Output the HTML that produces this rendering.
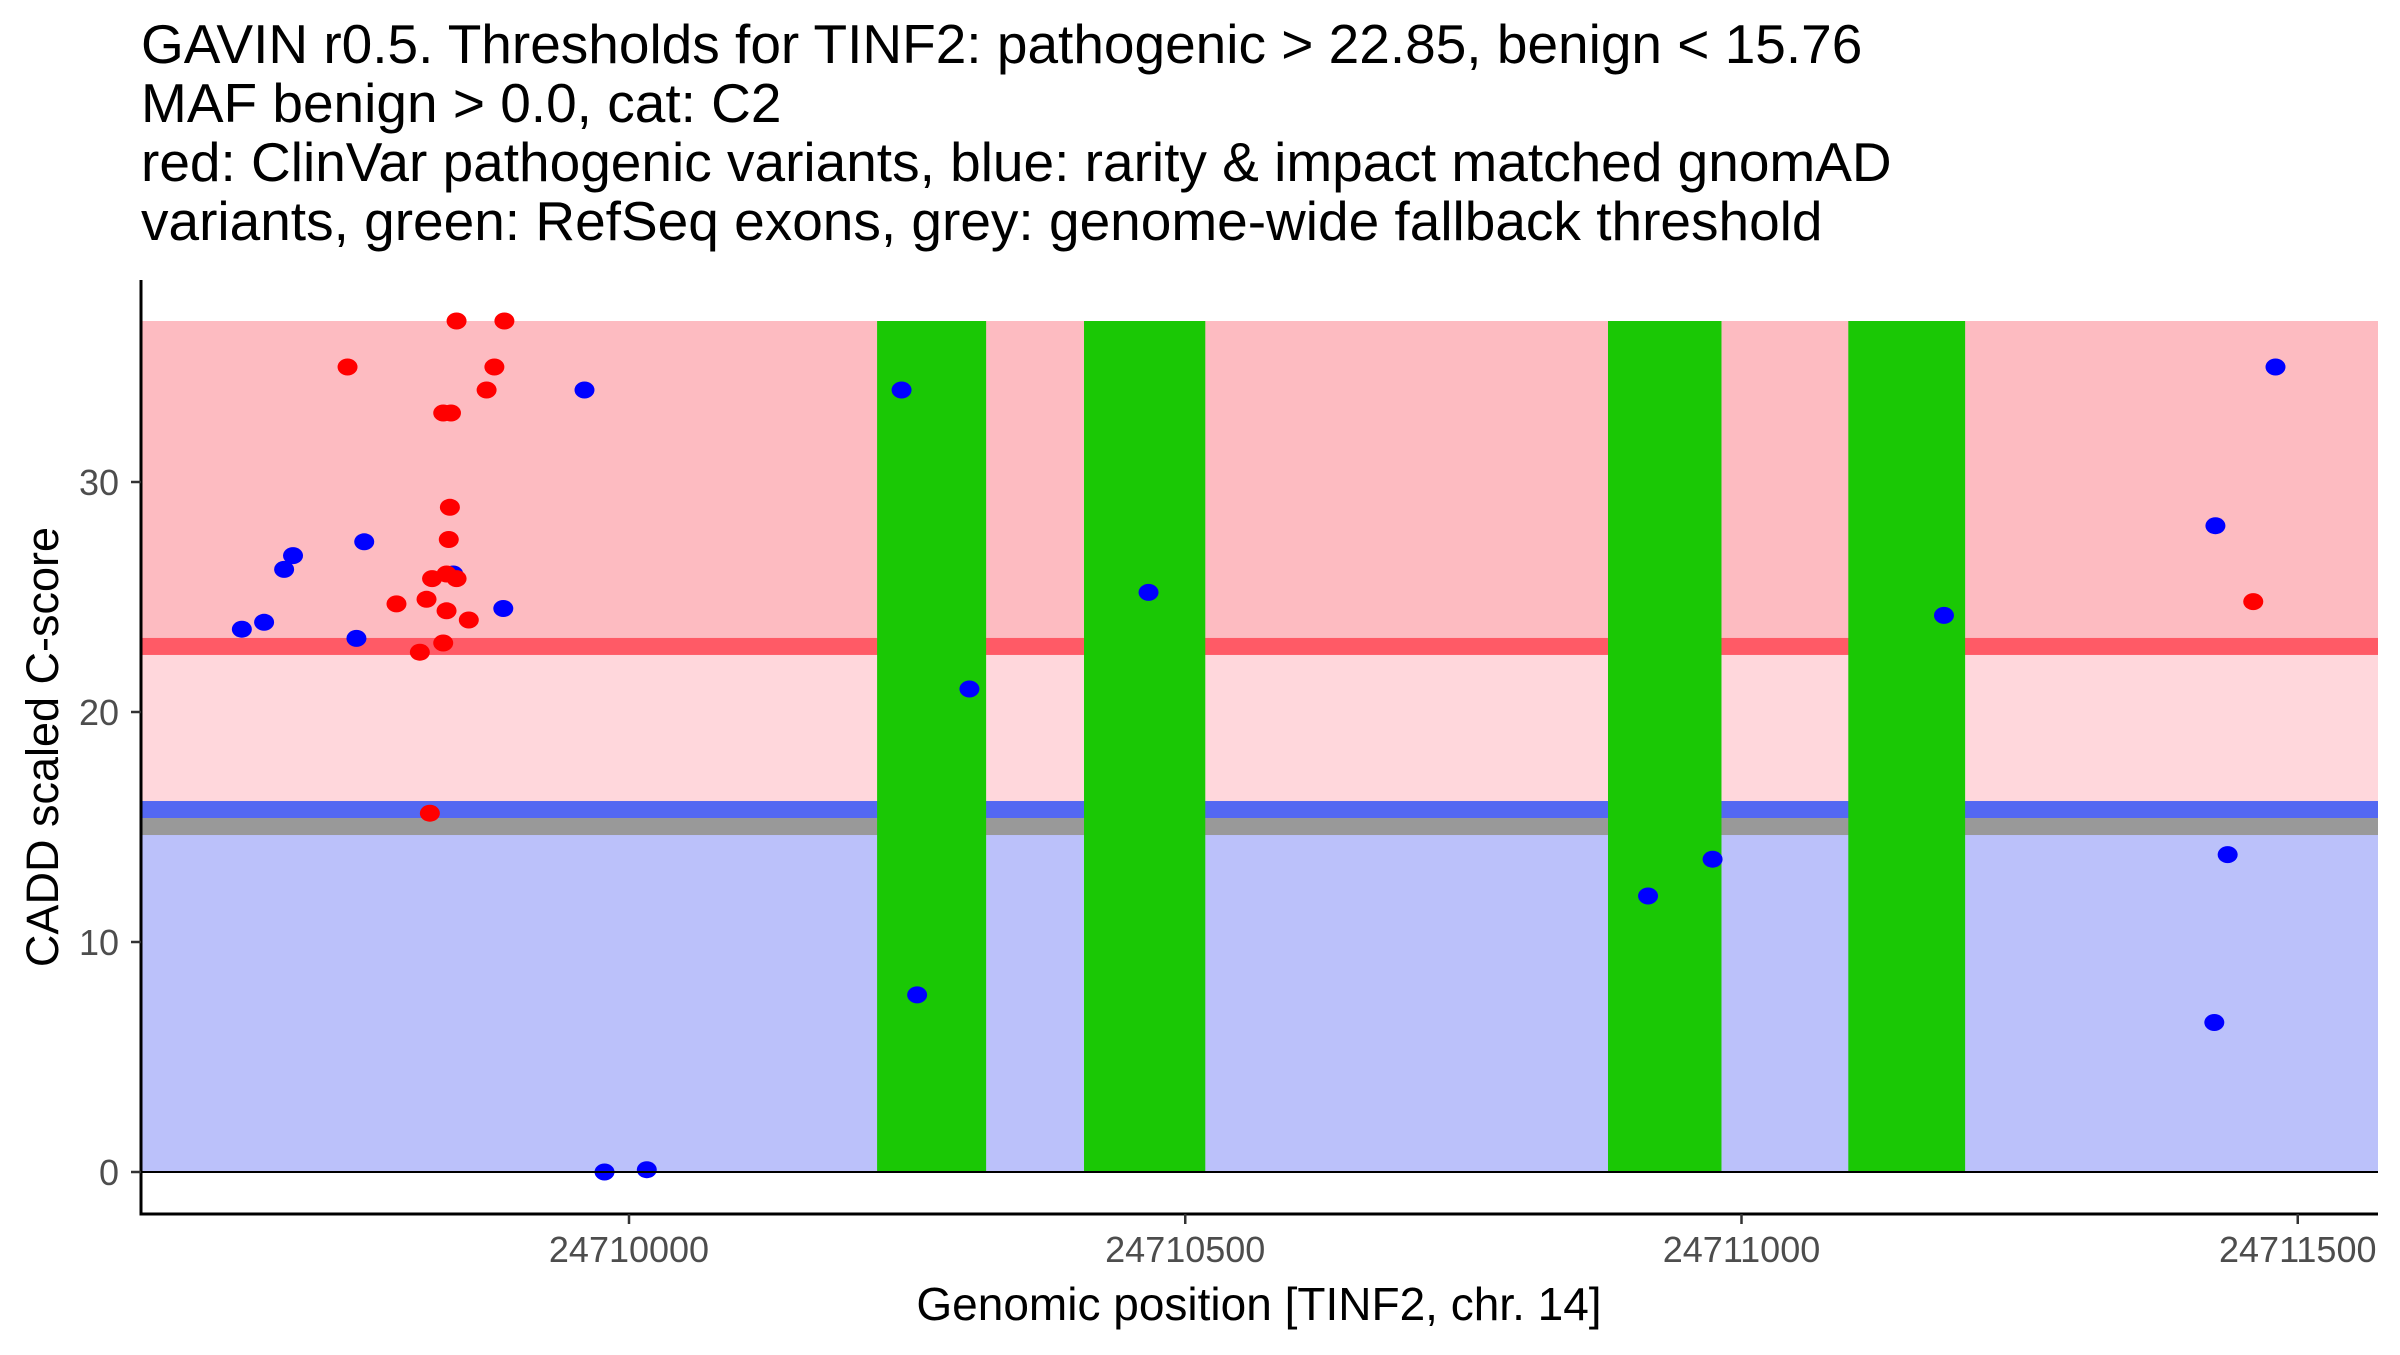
<!DOCTYPE html>
<html><head><meta charset="utf-8"><style>
body{margin:0;background:#fff}
svg text{font-family:"Liberation Sans",Arial,sans-serif}
</style></head><body>
<svg id="chart" width="2400" height="1350" viewBox="0 0 2400 1350" xmlns="http://www.w3.org/2000/svg">
<g font-size="55" fill="#000">
<text x="141" y="63">GAVIN r0.5. Thresholds for TINF2: pathogenic &gt; 22.85, benign &lt; 15.76</text>
<text x="141" y="122">MAF benign &gt; 0.0, cat: C2</text>
<text x="141" y="181">red: ClinVar pathogenic variants, blue: rarity &amp; impact matched gnomAD</text>
<text x="141" y="240">variants, green: RefSeq exons, grey: genome-wide fallback threshold</text>
</g>
<g id="bands"></g>
<g id="exons"></g>
<g id="points"></g>
<g id="axes"></g>
<text x="1259" y="1320" font-size="46" text-anchor="middle">Genomic position [TINF2, chr. 14]</text>
<text transform="translate(58,747) rotate(-90)" font-size="45" text-anchor="middle">CADD scaled C-score</text>
</svg>
<script>
const pathThr = 22.85, benThr = 15.76, fallbackThr = 15.0, maxScore = 37;
const xTicks = [24710000, 24710500, 24711000, 24711500];
const yTicks = [0, 10, 20, 30];
const exonStarts = [24710223, 24710409, 24710880, 24711096];
const exonEnds = [24710321, 24710518, 24710982, 24711201];
const redPos = [24709747,24709845,24709888,24709879,24709872,24709833,24709840,24709839,24709838,24709836,24709823,24709845,24709791,24709818,24709836,24709856,24709833,24709812,24709821,24711460];
const redScore = [35,37,37,35,34,33,33,28.9,27.5,26,25.8,25.8,24.7,24.9,24.4,24,23,22.6,15.6,24.8];
const bluePos = [24709652,24709672,24709690,24709698,24709762,24709755,24709842,24709887,24709960,24709978,24710016,24710245,24710259,24710306,24710467,24710916,24710974,24711182,24711480,24711426,24711437,24711425];
const blueScore = [23.6,23.9,26.2,26.8,27.4,23.2,26,24.5,34,0,0.1,34,7.7,21,25.2,12,13.6,24.2,35,28.1,13.8,6.5];

const NS="http://www.w3.org/2000/svg";
const X0=141, X1=2378, YT=280, YB=1214;
const xs = v => 629 + (v-24710000)*1.1125;
const ys = v => 1172 - v*23;
function mk(tag, attrs, parent){const e=document.createElementNS(NS,tag);for(const k in attrs)e.setAttribute(k,attrs[k]);parent.appendChild(e);return e;}
const bands=document.getElementById('bands');
const H=8.5;
let r;
r=mk('rect',{x:X0,y:ys(maxScore),width:X1-X0,height:ys(pathThr)-ys(maxScore),fill:'#FDBBC1'},bands);


r=mk('rect',{x:X0,y:ys(pathThr),width:X1-X0,height:ys(benThr)-ys(pathThr),fill:'#FFD7DC'},bands);


r=mk('rect',{x:X0,y:ys(fallbackThr),width:X1-X0,height:ys(0)-ys(fallbackThr),fill:'#BBC1FA'},bands);


r=mk('rect',{x:X0,y:ys(pathThr)-H,width:X1-X0,height:2*H,fill:'#FF5A66'},bands);


r=mk('rect',{x:X0,y:ys(benThr)-H,width:X1-X0,height:2*H,fill:'#5468F2'},bands);


r=mk('rect',{x:X0,y:ys(benThr)+H,width:X1-X0,height:2*H,fill:'#999999'},bands);


const ex=document.getElementById('exons');
for(let i=0;i<exonStarts.length;i++){
  const e=mk('rect',{x:xs(exonStarts[i]),y:ys(maxScore),width:xs(exonEnds[i])-xs(exonStarts[i]),height:ys(0)-ys(maxScore),fill:'#1AC805'},ex);
  
  
}
const ax=document.getElementById('axes');
let l=mk('line',{x1:X0,x2:X1,y1:ys(0),y2:ys(0),stroke:'#000','stroke-width':2},ax);


const pts=document.getElementById('points');
for(let i=0;i<bluePos.length;i++){
  const c=mk('ellipse',{cx:xs(bluePos[i]),cy:ys(blueScore[i]),rx:10,ry:8.5,fill:'#0000FF'},pts);
  
  
}
for(let i=0;i<redPos.length;i++){
  const c=mk('ellipse',{cx:xs(redPos[i]),cy:ys(redScore[i]),rx:10,ry:8.5,fill:'#FF0000'},pts);
  
  
}
l=mk('line',{x1:X0,x2:X0,y1:YT,y2:YB+1.5,stroke:'#000','stroke-width':3},ax);


l=mk('line',{x1:X0-1.5,x2:X1,y1:YB,y2:YB,stroke:'#000','stroke-width':3},ax);


for(const v of yTicks){
  const t=mk('line',{x1:X0-10,x2:X0,y1:ys(v),y2:ys(v),stroke:'#333','stroke-width':2.5},ax);
  
  
  const tx=mk('text',{x:X0-22,y:ys(v)+13,'font-size':36,'text-anchor':'end',fill:'#4d4d4d'},ax);
  tx.textContent=v;
  
  
}
for(const v of xTicks){
  const t=mk('line',{x1:xs(v),x2:xs(v),y1:YB,y2:YB+10,stroke:'#333','stroke-width':2.5},ax);
  
  
  const tx=mk('text',{x:xs(v),y:YB+48,'font-size':36,'text-anchor':'middle',fill:'#4d4d4d'},ax);
  tx.textContent=v;
  
  
}
</script>
</body></html>
